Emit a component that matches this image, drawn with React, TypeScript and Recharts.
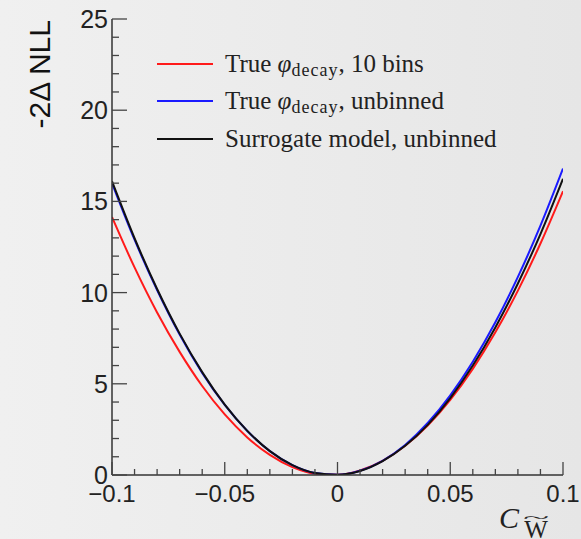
import { LineChart, Line, XAxis, YAxis, Legend } from 'recharts';

// C_W~ scan points
const cw = [
  -0.1, -0.09, -0.08, -0.07, -0.06, -0.05, -0.04, -0.03, -0.02, -0.01, 0,
  0.01, 0.02, 0.03, 0.04, 0.05, 0.06, 0.07, 0.08, 0.09, 0.1,
];

// -2 delta NLL per curve
const trueBinned = [
  14.14, 11.38, 8.91, 6.75, 4.88, 3.32, 2.06, 1.1, 0.43, 0.07, 0.01,
  0.25, 0.78, 1.6, 2.71, 4.12, 5.82, 7.82, 10.11, 12.69, 15.56,
];
const trueUnbinned = [
  16.0, 12.9, 10.14, 7.7, 5.6, 3.84, 2.41, 1.31, 0.54, 0.11, 0.01,
  0.23, 0.78, 1.65, 2.85, 4.37, 6.21, 8.37, 10.86, 13.67, 16.8,
];
const surrogate = [
  16.1, 12.98, 10.2, 7.75, 5.64, 3.86, 2.42, 1.31, 0.54, 0.11, 0.01,
  0.22, 0.76, 1.6, 2.75, 4.22, 6.0, 8.09, 10.5, 13.21, 16.24,
];

const seriesNames = ['True φ_decay, 10 bins', 'True φ_decay, unbinned', 'Surrogate model, unbinned'];
const seriesColors = ['#ff1a1a', '#1a1aff', '#111111'];

const xTicks = [
  -0.1, -0.09, -0.08, -0.07, -0.06, -0.05, -0.04, -0.03, -0.02, -0.01, 0,
  0.01, 0.02, 0.03, 0.04, 0.05, 0.06, 0.07, 0.08, 0.09, 0.1,
];
const yTicks = [
  0, 1, 2, 3, 4, 5, 6, 7, 8, 9, 10, 11, 12, 13, 14, 15, 16, 17, 18, 19, 20,
  21, 22, 23, 24, 25,
];

const data = cw.map((x, i) => ({
  x,
  binned: trueBinned[i],
  unbinned: trueUnbinned[i],
  surrogate: surrogate[i],
}));

const sans = '"Liberation Sans", Arial, sans-serif';
const serif = '"Liberation Serif", "Times New Roman", serif';
const tickColor = '#444';

const isMajorX = (v: number) => Math.abs(Math.round(v * 100)) % 5 === 0;
const isMajorY = (v: number) => v % 5 === 0;
const fmtX = (v: number) => (Math.abs(v) < 1e-9 ? '0' : (v < 0 ? '−' : '') + String(Math.abs(v)));

const BottomTick = (props: any) => {
  const { x, y, payload } = props;
  const major = isMajorX(payload.value);
  return (
    <g>
      <line x1={x} x2={x} y1={y} y2={y - (major ? 13 : 6)} stroke={tickColor} strokeWidth={1.3} />
      {major && (
        <text x={x} y={y + 27} textAnchor="middle" fontFamily={sans} fontSize={24} fill="#222">
          {fmtX(payload.value)}
        </text>
      )}
    </g>
  );
};

const TopTick = (props: any) => {
  const { x, y, payload } = props;
  const major = isMajorX(payload.value);
  return <line x1={x} x2={x} y1={y} y2={y + (major ? 13 : 6)} stroke={tickColor} strokeWidth={1.3} />;
};

const LeftTick = (props: any) => {
  const { x, y, payload } = props;
  const major = isMajorY(payload.value);
  return (
    <g>
      <line x1={x} x2={x + (major ? 15 : 7)} y1={y} y2={y} stroke={tickColor} strokeWidth={1.3} />
      {major && (
        <text x={x - 4} y={y + 9} textAnchor="end" fontFamily={sans} fontSize={25} fill="#222">
          {payload.value}
        </text>
      )}
    </g>
  );
};

const RightTick = (props: any) => {
  const { x, y, payload } = props;
  const major = isMajorY(payload.value);
  return <line x1={x} x2={x - (major ? 15 : 7)} y1={y} y2={y} stroke={tickColor} strokeWidth={1.3} />;
};

const YTitle = (props: any) => {
  const vb = props.viewBox;
  const cx = vb.x + 27;
  const top = vb.y + 1;
  return (
    <text
      x={cx}
      y={top}
      transform={`rotate(-90 ${cx} ${top})`}
      textAnchor="end"
      dominantBaseline="central"
      fontFamily={sans}
      fontSize={30}
      fill="#111"
    >
      -2Δ NLL
    </text>
  );
};

const XTitle = (props: any) => {
  const vb = props.viewBox;
  const cx = vb.x + vb.width - 64;
  const sx = cx + 37;
  return (
    <g fill="#222">
      <text x={cx} y={vb.y + 53} fontFamily={serif} fontStyle="italic" fontSize={30}>
        C
      </text>
      <text
        x={0}
        y={0}
        textAnchor="middle"
        fontFamily={serif}
        fontSize={22}
        transform={`translate(${sx} ${vb.y + 48}) scale(2.2 0.7)`}
      >
        ~
      </text>
      <text x={sx} y={vb.y + 63} textAnchor="middle" fontFamily={serif} fontSize={25}>
        W
      </text>
    </g>
  );
};

const renderName = (name: string) => {
  const m = name.match(/^(.*)φ_(\w+)(.*)$/);
  if (!m) return name;
  return (
    <>
      {m[1]}
      <span style={{ fontStyle: 'italic' }}>φ</span>
      <span style={{ fontSize: 18, letterSpacing: 1, position: 'relative', top: 4 }}>{m[2]}</span>
      {m[3]}
    </>
  );
};

const LegendBox = (props: any) => {
  const items = [...(props.payload || [])].sort(
    (a: any, b: any) => seriesNames.indexOf(a.value) - seriesNames.indexOf(b.value),
  );
  return (
    <div style={{ fontFamily: serif, fontSize: 25, color: '#222' }}>
      {items.map((p: any) => (
        <div key={p.value} style={{ display: 'flex', alignItems: 'center', height: 37.5, whiteSpace: 'nowrap' }}>
          <span style={{ display: 'inline-block', width: 56, height: 2, background: p.color, marginRight: 12 }} />
          <span>{renderName(p.value)}</span>
        </div>
      ))}
    </div>
  );
};

export default function App() {
  return (
    <div
      style={{
        position: 'absolute',
        left: 0,
        top: 0,
        width: 581,
        height: 539,
        overflow: 'hidden',
        background: 'linear-gradient(to right, #f0f0f0, #e6e6e6)',
      }}
    >
      <LineChart width={581} height={539} data={data} margin={{ top: 19, right: 18, bottom: 24, left: 12 }}>
        <XAxis
          dataKey="x"
          type="number"
          domain={[-0.1, 0.1]}
          ticks={xTicks}
          interval={0}
          height={40}
          tickSize={0}
          tickMargin={0}
          tick={<BottomTick />}
          axisLine={{ stroke: '#333', strokeWidth: 1.5 }}
          allowDataOverflow
          label={<XTitle />}
        />
        <XAxis
          xAxisId="top"
          orientation="top"
          dataKey="x"
          type="number"
          domain={[-0.1, 0.1]}
          ticks={xTicks}
          interval={0}
          height={0}
          tickSize={0}
          tickMargin={0}
          tick={<TopTick />}
          axisLine={{ stroke: '#333', strokeWidth: 1.5 }}
          allowDataOverflow
        />
        <YAxis
          type="number"
          domain={[0, 25]}
          ticks={yTicks}
          interval={0}
          width={100}
          tickSize={0}
          tickMargin={0}
          tick={<LeftTick />}
          axisLine={{ stroke: '#333', strokeWidth: 1.5 }}
          allowDataOverflow
          label={<YTitle />}
        />
        <YAxis
          yAxisId="right"
          orientation="right"
          type="number"
          domain={[0, 25]}
          ticks={yTicks}
          interval={0}
          width={0}
          tickSize={0}
          tickMargin={0}
          tick={<RightTick />}
          axisLine={{ stroke: '#333', strokeWidth: 1.5 }}
          allowDataOverflow
        />
        <Legend
          layout="vertical"
          align="center"
          verticalAlign="middle"
          content={<LegendBox />}
          wrapperStyle={{ left: 157, top: 45, width: 'auto' }}
        />
        <Line dataKey="binned" name={seriesNames[0]} stroke={seriesColors[0]} strokeWidth={2} type="monotone" dot={false} isAnimationActive={false} />
        <Line dataKey="unbinned" name={seriesNames[1]} stroke={seriesColors[1]} strokeWidth={2} type="monotone" dot={false} isAnimationActive={false} />
        <Line dataKey="surrogate" name={seriesNames[2]} stroke={seriesColors[2]} strokeWidth={2} type="monotone" dot={false} isAnimationActive={false} />
      </LineChart>
    </div>
  );
}
